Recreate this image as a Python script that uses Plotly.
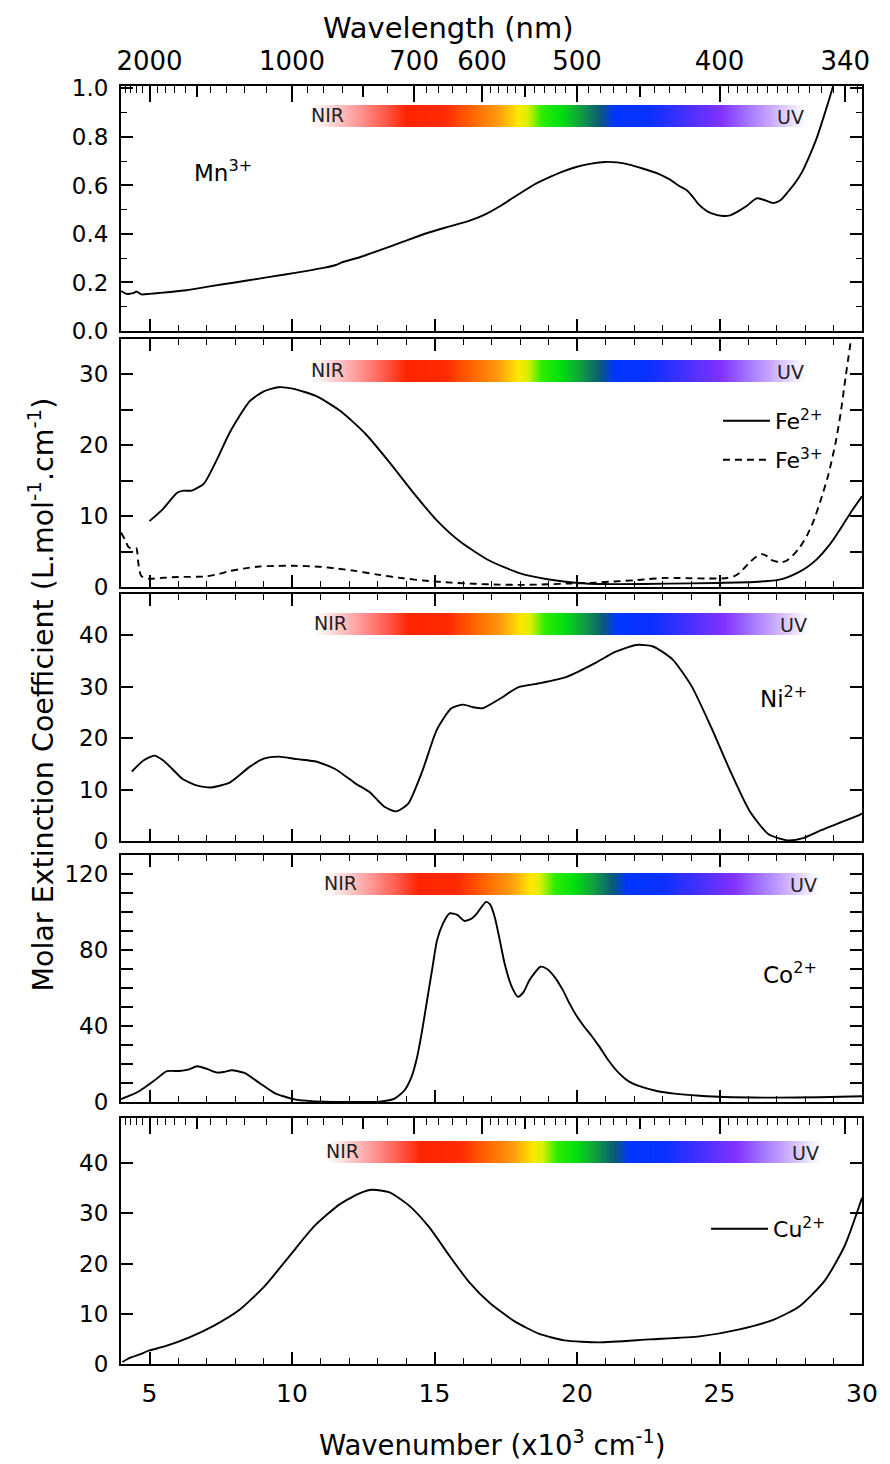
import base64, struct, zlib
import plotly.graph_objects as go

# ---------------- data (wavenumber in 10^3 cm^-1) ----------------
mn_x = [4.0, 4.2, 4.45, 4.54, 4.71, 5.0, 5.47, 6.3, 7.16, 8.0, 8.85, 9.7, 10.53, 11.1, 11.54, 11.65, 11.75, 12.4,
        13.06, 13.9, 14.75, 15.5, 16.26, 16.8, 17.28, 17.7, 18.12, 18.5, 18.96, 19.45, 19.97, 20.5, 20.99, 21.4,
        21.83, 22.3, 22.84, 23.25, 23.6, 23.85, 24.05, 24.27, 24.5, 24.7, 25.12, 25.4, 25.62, 25.95, 26.3, 26.55,
        26.89, 27.15, 27.39, 27.65, 27.9, 28.15, 28.41, 28.62, 28.83, 29.08, 29.3]
mn_y = [0.165, 0.153, 0.157, 0.163, 0.151, 0.153, 0.158, 0.168, 0.185, 0.200, 0.216, 0.232, 0.248, 0.260, 0.272,
        0.278, 0.283, 0.305, 0.332, 0.368, 0.404, 0.430, 0.456, 0.482, 0.513, 0.545, 0.576, 0.604, 0.630, 0.655,
        0.676, 0.690, 0.697, 0.695, 0.686, 0.670, 0.649, 0.625, 0.597, 0.580, 0.555, 0.522, 0.499, 0.486, 0.474,
        0.478, 0.491, 0.515, 0.547, 0.541, 0.527, 0.540, 0.572, 0.610, 0.656, 0.720, 0.795, 0.870, 0.948, 1.046, 1.12]

fe2_x = [5.0, 5.47, 5.97, 6.2, 6.48, 6.91, 7.33, 7.83, 8.51, 9.01, 9.52, 10.03, 10.87, 11.71, 12.56, 13.4, 14.24,
         15.08, 15.93, 16.94, 17.95, 18.96, 20.31, 21.49, 23.18, 24.87, 26.21, 26.7, 27.06, 27.4, 27.73, 28.07,
         28.41, 28.83, 29.08, 29.4, 29.67, 30.0]
fe2_y = [9.3, 11.0, 13.3, 13.6, 13.6, 14.6, 17.7, 21.9, 26.2, 27.6, 28.2, 28.0, 26.9, 24.8, 21.7, 17.7, 13.4, 9.4,
         6.3, 3.7, 2.0, 1.1, 0.5, 0.4, 0.47, 0.57, 0.7, 0.85, 1.0, 1.4, 2.0, 2.8, 3.9, 5.8, 7.2, 9.2, 10.9, 12.8]

fe3_x = [4.0, 4.15, 4.27, 4.45, 4.54, 4.62, 4.71, 4.97, 5.5, 5.98, 6.91, 7.4, 7.83, 8.3, 8.85, 9.5, 10.03, 10.5,
         11.04, 11.6, 12.22, 13.0, 13.9, 14.7, 15.59, 16.4, 17.28, 18.1, 18.96, 19.8, 20.65, 21.3, 22.0, 22.5,
         23.01, 23.5, 24.02, 24.6, 25.2, 25.5, 25.71, 26.05, 26.3, 26.47, 26.65, 26.8, 27.14, 27.35, 27.56, 27.8,
         28.07, 28.3, 28.57, 28.83, 29.08, 29.25, 29.42, 29.67]
fe3_y = [7.7, 6.6, 5.6, 5.4, 5.45, 3.0, 1.56, 1.18, 1.3, 1.42, 1.47, 1.8, 2.27, 2.6, 2.89, 2.98, 2.99, 2.95, 2.84,
         2.6, 2.27, 1.75, 1.23, 0.88, 0.62, 0.45, 0.33, 0.3, 0.38, 0.5, 0.62, 0.78, 0.95, 1.12, 1.28, 1.28, 1.23,
         1.2, 1.23, 1.5, 2.0, 3.46, 4.3, 4.64, 4.4, 3.84, 3.46, 3.7, 4.4, 5.5, 7.25, 9.3, 12.5, 16.0, 20.5, 24.5,
         29.5, 36.5]

ni_x = [4.38, 4.8, 5.17, 5.47, 5.8, 6.15, 6.65, 7.16, 7.83, 8.51, 9.01, 9.52, 10.19, 10.87, 11.54, 12.22, 12.72,
        13.23, 13.65, 14.07, 14.58, 15.08, 15.59, 16.01, 16.35, 16.69, 17.28, 17.95, 18.63, 19.64, 20.65, 21.32,
        22.08, 22.67, 23.35, 24.02, 24.70, 25.37, 26.05, 26.72, 27.39, 27.9, 28.57, 29.25, 29.92, 30.0]
ni_y = [13.5, 15.7, 16.6, 15.7, 14.0, 12.1, 10.8, 10.4, 11.4, 14.4, 16.0, 16.4, 15.9, 15.4, 13.9, 11.2, 9.5, 6.7,
        5.75, 7.2, 13.7, 21.6, 25.8, 26.5, 26.0, 25.8, 27.6, 29.9, 30.6, 31.9, 34.6, 36.7, 38.1, 37.8, 35.3, 30.1,
        22.2, 13.7, 5.9, 1.3, 0.13, 0.5, 2.1, 3.6, 5.1, 5.3]

co_x = [4.0, 4.3, 4.65, 5.18, 5.61, 6.05, 6.35, 6.67, 7.02, 7.37, 7.6, 7.89, 8.33, 8.86, 9.39, 10.09, 11.14, 12.0,
        13.07, 13.6, 13.95, 14.2, 14.39, 14.57, 14.74, 14.92, 15.09, 15.3, 15.53, 15.8, 16.05, 16.3, 16.49, 16.81,
        16.95, 17.11, 17.28, 17.46, 17.7, 17.93, 18.13, 18.33, 18.72, 18.95, 19.21, 19.5, 19.74, 20.0, 20.26, 20.5,
        20.79, 21.1, 21.49, 21.8, 22.19, 22.8, 23.42, 24.3, 25.18, 26.93, 28.5, 30.0]
co_y = [1.5, 3.3, 5.8, 11.4, 16.2, 16.3, 17.0, 18.8, 17.4, 15.5, 15.8, 16.7, 15.3, 10.0, 4.7, 1.4, 0.1, 0.0, 0.2,
        1.8, 6.2, 13.5, 23.7, 38.0, 53.6, 70.0, 85.2, 94.0, 99.3, 98.5, 95.3, 96.5, 99.3, 105.3, 104.0, 97.5, 86.0,
        72.9, 61.0, 55.4, 58.0, 64.1, 71.2, 70.0, 65.9, 59.0, 51.8, 45.0, 39.5, 35.0, 29.0, 22.0, 14.9, 11.0, 8.3,
        5.8, 4.4, 3.3, 2.6, 2.3, 2.5, 3.0]

cu_x = [4.05, 4.2, 4.4, 4.65, 5.0, 5.53, 6.4, 7.28, 8.16, 9.04, 9.91, 10.79, 11.67, 12.37, 12.81, 13.42, 14.12,
        14.82, 15.53, 16.23, 16.93, 17.81, 18.68, 19.56, 20.79, 22.54, 24.3, 25.7, 26.93, 27.81, 28.68, 29.39, 30.0]
cu_y = [0.4, 0.9, 1.4, 1.9, 2.7, 3.5, 5.3, 7.7, 10.8, 15.5, 21.5, 27.5, 31.8, 34.0, 34.7, 34.2, 31.5, 27.2, 21.5,
        16.2, 12.2, 8.5, 6.0, 4.7, 4.3, 4.9, 5.5, 6.9, 8.9, 11.5, 16.5, 23.5, 33.1]

# tick labels / tick positions
wn_major = [5, 10, 15, 20, 25, 30]
wl_labels = [2000, 1000, 700, 600, 500, 400, 340]
wl_medium = [1500, 800, 550, 450]
wl_minor = ([2400, 2300, 2200, 2100, 1900, 1800, 1700, 1600, 1400, 1300, 1200, 1100, 950, 900, 850, 750,
             680, 660, 640, 620] + [590, 580, 570, 560, 540, 530, 520, 510] + [490, 480, 470, 460, 440, 430, 420, 410]
            + [395, 390, 385, 380, 375, 370, 365, 360, 355, 350, 345, 335])

# spectrum bar colour stops (fraction along bar, colour)
spec_stops = [(0.0, "#ffffff"), (0.02, "#fdeeee"), (0.094, "#ff9a9a"), (0.153, "#ff5545"), (0.193, "#ff2400"),
              (0.271, "#ff2a00"), (0.329, "#ff6a00"), (0.378, "#ff9a10"), (0.418, "#ffe800"), (0.438, "#d8f000"),
              (0.466, "#30ee00"), (0.506, "#00e010"), (0.544, "#10a040"), (0.584, "#0b5a78"), (0.612, "#0036ff"),
              (0.683, "#0a30ff"), (0.751, "#4030ff"), (0.829, "#8232ff"), (0.878, "#a070ff"), (0.928, "#c8a8ff"),
              (0.98, "#f0eaff"), (1.0, "#ffffff")]

# ---------------- layout geometry (page pixels) ----------------
W, H = 890, 1464
L, R, T, B = 121, 867, 86, 1364
panels_px = [(86, 331), (339, 587), (594, 841), (855, 1102), (1118, 1364)]
PH = B - T
PW = R - L


def py(p):
    return (B - p) / PH


def px(p):
    return (p - L) / PW


domains = [[py(b), py(t)] for t, b in panels_px]

FONT = "DejaVu Sans"


def hex2rgb(h):
    h = h.lstrip("#")
    return tuple(int(h[i:i + 2], 16) for i in (0, 2, 4))


def gradient_png(stops, n=600):
    cols = []
    for i in range(n):
        f = i / (n - 1)
        for j in range(len(stops) - 1):
            a, ca = stops[j]
            b, cb = stops[j + 1]
            if a <= f <= b:
                t = 0 if b == a else (f - a) / (b - a)
                ra, rb = hex2rgb(ca), hex2rgb(cb)
                cols.append(tuple(int(round(ra[k] + (rb[k] - ra[k]) * t)) for k in range(3)))
                break
    row = b"\x00" + bytes([v for c in cols for v in c])
    raw = row * 4

    def chunk(t, d):
        return struct.pack(">I", len(d)) + t + d + struct.pack(">I", zlib.crc32(t + d) & 0xffffffff)

    png = (b"\x89PNG\r\n\x1a\n" + chunk(b"IHDR", struct.pack(">IIBBBBB", n, 4, 8, 2, 0, 0, 0))
           + chunk(b"IDAT", zlib.compress(raw)) + chunk(b"IEND", b""))
    return "data:image/png;base64," + base64.b64encode(png).decode()


spec_src = gradient_png(spec_stops)

fig = go.Figure()
line = dict(color="black", width=1.9, shape="spline", smoothing=0.6)

fig.add_trace(go.Scatter(x=mn_x, y=mn_y, mode="lines", line=line, xaxis="x", yaxis="y", showlegend=False))
fig.add_trace(go.Scatter(x=fe2_x, y=fe2_y, mode="lines", line=line, xaxis="x2", yaxis="y2",
                         name="Fe<sup>2+</sup>", legend="legend"))
fig.add_trace(go.Scatter(x=fe3_x, y=fe3_y, mode="lines", line=dict(line, dash="7px,5px"), xaxis="x2", yaxis="y2",
                         name="Fe<sup>3+</sup>", legend="legend3"))
fig.add_trace(go.Scatter(x=ni_x, y=ni_y, mode="lines", line=line, xaxis="x3", yaxis="y3", showlegend=False))
fig.add_trace(go.Scatter(x=co_x, y=co_y, mode="lines", line=line, xaxis="x4", yaxis="y4", showlegend=False))
fig.add_trace(go.Scatter(x=cu_x, y=cu_y, mode="lines", line=line, xaxis="x5", yaxis="y5",
                         name="Cu<sup>2+</sup>", legend="legend2"))
# empty traces to activate overlay (wavelength) axes
for xa, ya in [("x6", "y"), ("x7", "y5"), ("x8", "y"), ("x9", "y5")]:
    fig.add_trace(go.Scatter(x=[], y=[], xaxis=xa, yaxis=ya, showlegend=False, hoverinfo="skip"))

XR = [4, 30]
tickfont_x = dict(family=FONT, size=25, color="black")
tickfont_y = dict(family=FONT, size=23, color="black")


def wn_axis(i, labels, mirror):
    return dict(domain=[0, 1], range=XR, anchor="y" if i == 1 else f"y{i}", tickvals=wn_major,
                ticks="inside", ticklen=12, tickwidth=1.5, tickcolor="black", showline=True, linewidth=2,
                linecolor="black", mirror=mirror, showgrid=False, zeroline=False, showticklabels=labels,
                tickfont=tickfont_x, ticklabelstandoff=6,
                minor=dict(dtick=1, tick0=0, ticks="inside", ticklen=6, tickwidth=1.3, tickcolor="black",
                           showgrid=False))


def wl_axis(over, anchor, labels, major_vals, major_text, ticklen, minor_vals=None):
    d = dict(overlaying=over, anchor=anchor, side="top", range=XR, tickvals=major_vals, ticktext=major_text,
             ticks="inside", ticklen=ticklen, tickwidth=1.5, tickcolor="black", showline=False, showgrid=False,
             zeroline=False, showticklabels=labels, tickfont=dict(family=FONT, size=26, color="black"),
             ticklabelstandoff=10)
    if minor_vals is not None:
        d["minor"] = dict(tickvals=minor_vals, ticks="inside", ticklen=7, tickwidth=1.3, tickcolor="black",
                          showgrid=False)
    return d


wl_vals = [1e4 / v for v in wl_labels]
wl_text = [str(v) for v in wl_labels]
wl_med_vals = [1e4 / v for v in wl_medium]
wl_min_vals = [1e4 / v for v in wl_minor]

lay = dict(
    width=W, height=H, paper_bgcolor="white", plot_bgcolor="white",
    margin=dict(l=L, r=W - R, t=T, b=H - B, pad=0),
    font=dict(family=FONT, color="black"),
    xaxis=wn_axis(1, False, True),
    xaxis2=wn_axis(2, False, "ticks"),
    xaxis3=wn_axis(3, False, "ticks"),
    xaxis4=wn_axis(4, False, "ticks"),
    xaxis5=wn_axis(5, True, True),
    xaxis6=wl_axis("x", "y", True, wl_vals, wl_text, 16, wl_min_vals),
    xaxis7=wl_axis("x5", "y5", False, wl_vals, wl_text, 16, wl_min_vals),
    xaxis8=wl_axis("x", "y", False, wl_med_vals, ["" for _ in wl_medium], 11),
    xaxis9=wl_axis("x5", "y5", False, wl_med_vals, ["" for _ in wl_medium], 11),
)

ycfg = [
    dict(range=[0, 1.01], tickvals=[0, 0.2, 0.4, 0.6, 0.8, 1.0], ticktext=["0.0", "0.2", "0.4", "0.6", "0.8", "1.0"],
         minor=dict(dtick=0.1, tick0=0, ticks="inside", ticklen=6, tickwidth=1.3, tickcolor="black", showgrid=False)),
    dict(range=[0, 35], tickvals=[0, 5, 10, 15, 20, 25, 30], ticktext=["0", "", "10", "", "20", "", "30"]),
    dict(range=[0, 48], tickvals=[0, 10, 20, 30, 40]),
    dict(range=[0, 130], tickvals=[0, 10, 20, 30, 40, 50, 60, 70, 80, 90, 100, 110, 120],
         ticktext=["0", "", "", "", "40", "", "", "", "80", "", "", "", "120"]),
    dict(range=[0, 49], tickvals=[0, 10, 20, 30, 40]),
]
for i, yc in enumerate(ycfg, start=1):
    base = dict(domain=domains[i - 1], anchor="x" if i == 1 else f"x{i}", ticks="inside", ticklen=12,
                tickwidth=1.5, tickcolor="black", showline=True, linewidth=2, linecolor="black", mirror="ticks",
                showgrid=False, zeroline=False, tickfont=tickfont_y, ticklabelstandoff=6)
    base.update(yc)
    lay["yaxis" if i == 1 else f"yaxis{i}"] = base

# legends
leg_font = dict(family=FONT, size=22)
lay["legend"] = dict(x=px(722), y=py(400), xanchor="left", yanchor="top", bgcolor="rgba(0,0,0,0)",
                     font=leg_font, itemwidth=47)
lay["legend3"] = dict(x=px(722), y=py(439), xanchor="left", yanchor="top", bgcolor="rgba(0,0,0,0)",
                      font=leg_font, itemwidth=47)
lay["legend2"] = dict(x=px(710), y=py(1208), xanchor="left", yanchor="top", bgcolor="rgba(0,0,0,0)",
                      font=leg_font, itemwidth=57)

fig.update_layout(**lay)

# spectrum bars
bar_start = [10.65, 10.65, 10.75, 11.1, 11.17]
bar_span = 17.4
bar_off = [19, 21, 19, 18, 23]
images = []
annots = []
for i in range(5):
    xr = "x" if i == 0 else f"x{i + 1}"
    top_px = panels_px[i][0] + bar_off[i]
    images.append(dict(source=spec_src, xref=xr, yref="paper", x=bar_start[i], y=py(top_px), sizex=bar_span,
                       sizey=22 / PH, xanchor="left", yanchor="top", sizing="stretch", layer="below"))
    annots.append(dict(x=bar_start[i] - 0.05, y=py(top_px + 10), xref=xr, yref="paper", text="NIR",
                       showarrow=False, xanchor="left", yanchor="middle",
                       font=dict(family=FONT, size=19, color="#222222")))
    annots.append(dict(x=bar_start[i] + bar_span, y=py(top_px + 12), xref=xr, yref="paper", text="UV",
                       showarrow=False, xanchor="right", yanchor="middle",
                       font=dict(family=FONT, size=19, color="#222222")))

# panel labels
lab_font = dict(family=FONT, size=23, color="black")
annots += [
    dict(x=6.5, y=0.66, xref="x", yref="y", text="Mn<sup>3+</sup>", showarrow=False, xanchor="left",
         yanchor="middle", font=lab_font),
    dict(x=26.35, y=28.0, xref="x3", yref="y3", text="Ni<sup>2+</sup>", showarrow=False, xanchor="left",
         yanchor="middle", font=lab_font),
    dict(x=26.45, y=68.0, xref="x4", yref="y4", text="Co<sup>2+</sup>", showarrow=False, xanchor="left",
         yanchor="middle", font=lab_font),
]

# axis titles
annots += [
    dict(x=px(451), y=py(28), xref="paper", yref="paper", text="Wavelength (nm)", showarrow=False,
         xanchor="center", yanchor="middle", font=dict(family=FONT, size=29)),
    dict(x=px(494), y=py(1443), xref="paper", yref="paper", text="Wavenumber (x10<sup>3</sup> cm<sup>-1</sup>)",
         showarrow=False, xanchor="center", yanchor="middle", font=dict(family=FONT, size=27.5)),
    dict(x=px(40), y=py(695), xref="paper", yref="paper", textangle=-90,
         text="Molar Extinction Coefficient (L.mol<sup>-1</sup>.cm<sup>-1</sup>)", showarrow=False,
         xanchor="center", yanchor="middle", font=dict(family=FONT, size=28.5)),
]

fig.update_layout(images=images, annotations=annots)
fig.write_html(
    "out.html",
    config={"displayModeBar": False},
    post_script="document.body.style.margin='0';document.body.style.overflow='hidden';"
                "document.documentElement.style.overflow='hidden';",
)
